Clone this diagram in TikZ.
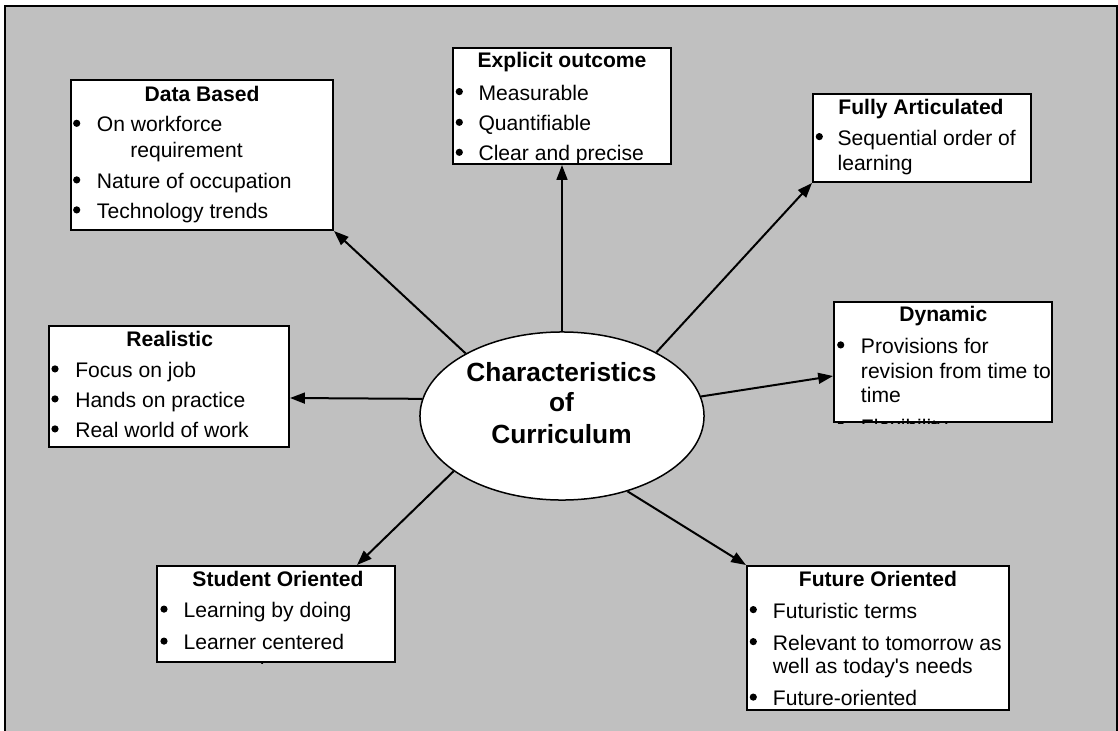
\documentclass[tikz,border=0pt]{standalone}
\usepackage{fontspec}
\setmainfont{Liberation Sans}
\usetikzlibrary{shapes.geometric, arrows.meta, fit}

% one drawing unit = one pixel of the layout grid (0.025cm)
\definecolor{panelgray}{HTML}{C0C0C0}
\newcommand{\bodyfont}{\fontsize{15}{17.7}\selectfont}
\newcommand{\headfont}{\fontsize{15}{17.7}\selectfont\bfseries}
\newcommand{\hubfont}{\fontsize{18.7}{21.6}\selectfont\bfseries}

\tikzset{
  frame/.style={draw=black, line width=0.05cm, fill=panelgray},
  box/.style={draw=black, line width=0.05cm, fill=white, inner sep=0pt, rectangle},
  hub/.style={draw=black, line width=0.0375cm, fill=white, ellipse, inner sep=0pt},
  boxtitle/.style={anchor=base, inner sep=0pt, font=\headfont},
  hubtext/.style={anchor=base, inner sep=0pt, font=\hubfont},
  txt/.style={anchor=base west, inner sep=0pt, font=\bodyfont},
  conn/.style={draw=black, line width=0.05cm, -{Triangle[length=0.37cm, width=0.27cm]}},
}
% filled bullet sitting on the given baseline
\newcommand{\dotat}[2]{\fill (#1,#2-8.4) circle[radius=0.09cm];}

\begin{document}
\begin{tikzpicture}[x=0.025cm, y=-0.025cm]
  \clip (0,0) rectangle (1118,730);
  \fill[white] (0,0) rectangle (1118,730);
  \draw[frame] (5,6) rectangle (1117,760);

  % outcome boxes
  \node[box, fit={(71,80) (333,230)}]   (db) {};
  \node[box, fit={(453,48) (671,164)}]  (eo) {};
  \node[box, fit={(813,94) (1031,182)}] (fa) {};
  \node[box, fit={(834,302) (1052,422)}] (dy) {};
  \node[box, fit={(49,326) (289,447)}]  (re) {};
  \node[box, fit={(157,566) (395,662)}] (so) {};
  \node[box, fit={(747,566) (1009,710)}] (fo) {};

  % central ellipse
  \node[hub, minimum width=7.1cm, minimum height=4.2cm] (c) at (562,416) {};
  \node[hubtext] (c1) at (561.5,381.7) {Characteristics};
  \node[hubtext] (c2) at (561.5,411.7) {of};
  \node[hubtext] (c3) at (561.5,443) {Curriculum};

  % Data Based
  \begin{scope}
    \clip (db.south west) rectangle (db.north east);
    \node[boxtitle] (db-t) at (202,101.7) {Data Based};
    \dotat{76.7}{131.7}\dotat{76.7}{188.3}\dotat{76.7}{218.3}
    \node[txt] (db-1) at (96.7,131.7) {On workforce};
    \node[txt] (db-2) at (130,157.3) {requirement};
    \node[txt] (db-3) at (96.7,188.3) {Nature of occupation};
    \node[txt] (db-4) at (96.7,218.3) {Technology trends};
  \end{scope}

  % Explicit outcome
  \begin{scope}
    \clip (eo.south west) rectangle (eo.north east);
    \node[boxtitle] (eo-t) at (562,67.3) {Explicit outcome};
    \dotat{459.3}{100}\dotat{459.3}{130.7}\dotat{459.3}{160.7}
    \node[txt] (eo-1) at (478.3,100) {Measurable};
    \node[txt] (eo-2) at (478.3,130.7) {Quantifiable};
    \node[txt] (eo-3) at (478.3,160.7) {Clear and precise};
  \end{scope}

  % Fully Articulated
  \begin{scope}
    \clip (fa.south west) rectangle (fa.north east);
    \node[boxtitle] (fa-t) at (921,114.3) {Fully Articulated};
    \dotat{819.3}{145}
    \node[txt] (fa-1) at (837.3,145) {Sequential order of};
    \node[txt] (fa-2) at (837.3,170) {learning};
  \end{scope}

  % Dynamic
  \begin{scope}
    \clip (dy.south west) rectangle (dy.north east);
    \node[boxtitle] (dy-t) at (943.3,321.7) {Dynamic};
    \dotat{840.7}{353.3}\dotat{840.7}{434}
    \node[txt] (dy-1) at (860.7,353.3) {Provisions for};
    \node[txt] (dy-2) at (860.7,378.3) {revision from time to};
    \node[txt] (dy-3) at (860.7,402.5) {time};
    \node[txt] (dy-4) at (860.7,434) {Flexibility};
  \end{scope}

  % Realistic
  \begin{scope}
    \clip (re.south west) rectangle (re.north east);
    \node[boxtitle] (re-t) at (169.7,346.7) {Realistic};
    \dotat{55}{377.3}\dotat{55}{407.3}\dotat{55}{437.3}
    \node[txt] (re-1) at (75,377.3) {Focus on job};
    \node[txt] (re-2) at (75,407.3) {Hands on practice};
    \node[txt] (re-3) at (75,437.3) {Real world of work};
  \end{scope}

  % Student Oriented
  \begin{scope}
    \clip (so.south west) rectangle (so.north east);
    \node[boxtitle] (so-t) at (278,586) {Student Oriented};
    \dotat{164}{617.5}\dotat{164}{649.5}
    \node[txt] (so-1) at (183.3,617.5) {Learning by doing};
    \node[txt] (so-2) at (183.3,649.5) {Learner centered};
    \node[txt] (so-3) at (183.3,677.5) {approach};
  \end{scope}

  % Future Oriented
  \begin{scope}
    \clip (fo.south west) rectangle (fo.north east);
    \node[boxtitle] (fo-t) at (878,586) {Future Oriented};
    \dotat{753.3}{618}\dotat{753.3}{650}\dotat{753.3}{705.5}
    \node[txt] (fo-1) at (772.7,618) {Futuristic terms};
    \node[txt] (fo-2) at (772.7,650) {Relevant to tomorrow as};
    \node[txt] (fo-3) at (772.7,673) {well as today\textquotesingle s needs};
    \node[txt] (fo-4) at (772.7,705.5) {Future-oriented};
  \end{scope}

  % connectors from the centre outwards
  \draw[conn] (c.147) -- (db.south east);
  \draw[conn] (c.90)  -- (eo.south);
  \draw[conn] (c.34)  -- (fa.south west);
  \draw[conn] (c.8)   -- ([yshift=-0.35cm]dy.west);
  \draw[conn] (c.173) -- ([yshift=-0.2875cm]re.east);
  \draw[conn] (c.207) -- ([xshift=2.025cm]so.north);
  \draw[conn] (c.311) -- (fo.north west);
\end{tikzpicture}
\end{document}
